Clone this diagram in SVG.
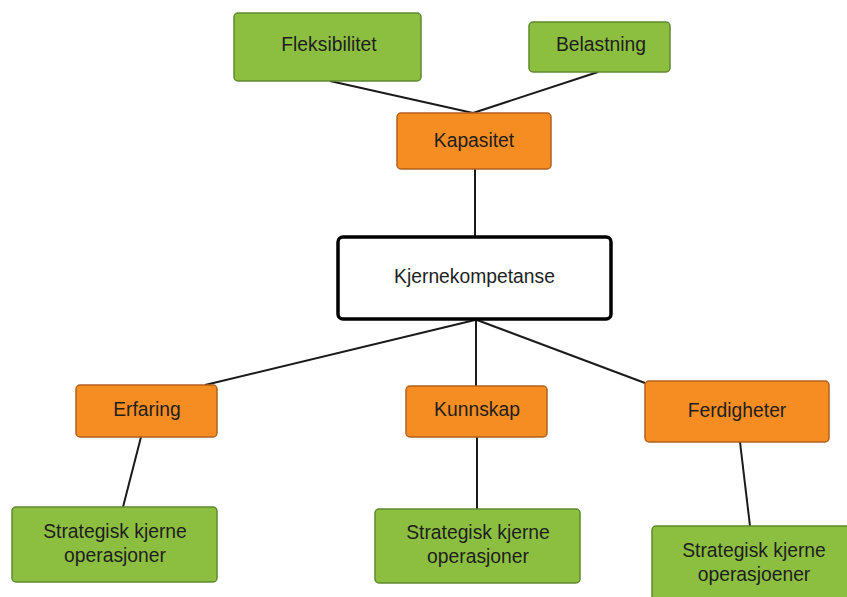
<svg xmlns="http://www.w3.org/2000/svg" width="847" height="597" viewBox="0 0 847 597">
  <style>
    .green { fill: #8cbf40; stroke: #5e8a2e; stroke-width: 1.5; }
    .orange { fill: #f68d22; stroke: #b0621c; stroke-width: 1.5; }
    .core { fill: #ffffff; stroke: #000000; stroke-width: 3.5; }
    .label { font-family: "Liberation Sans", Arial, sans-serif; font-size: 19.3px; fill: #1e1e1e; text-anchor: middle; }
    .edge { stroke: #1a1a1a; stroke-width: 2; fill: none; }
  </style>
  <rect width="847" height="597" fill="#ffffff"/>

  <!-- connectors -->
  <g id="connectors">
    <line class="edge" x1="330" y1="81" x2="473" y2="113"/>
    <line class="edge" x1="598" y1="72" x2="473" y2="113"/>
    <line class="edge" x1="475" y1="169" x2="475" y2="237"/>
    <line class="edge" x1="475" y1="320" x2="205" y2="385"/>
    <line class="edge" x1="476" y1="320" x2="476" y2="386"/>
    <line class="edge" x1="477" y1="320" x2="645" y2="383"/>
    <line class="edge" x1="141" y1="437" x2="123" y2="507"/>
    <line class="edge" x1="477" y1="437" x2="477" y2="509"/>
    <line class="edge" x1="740" y1="442" x2="750" y2="526"/>
  </g>

  <g id="fleksibilitet">
    <rect class="green" x="234" y="13" width="187" height="68" rx="4"/>
    <text class="label" x="329" y="51">Fleksibilitet</text>
  </g>
  <g id="belastning">
    <rect class="green" x="529" y="22" width="141" height="50" rx="4"/>
    <text class="label" x="601" y="51">Belastning</text>
  </g>
  <g id="kapasitet">
    <rect class="orange" x="397" y="113" width="154" height="56" rx="4"/>
    <text class="label" x="474" y="147">Kapasitet</text>
  </g>
  <g id="kjernekompetanse">
    <rect class="core" x="338" y="237" width="273" height="82" rx="5"/>
    <text class="label" x="474.5" y="283">Kjernekompetanse</text>
  </g>
  <g id="erfaring">
    <rect class="orange" x="76" y="385" width="141" height="52" rx="4"/>
    <text class="label" x="147" y="416">Erfaring</text>
  </g>
  <g id="kunnskap">
    <rect class="orange" x="406" y="386" width="141" height="51" rx="4"/>
    <text class="label" x="477" y="416">Kunnskap</text>
  </g>
  <g id="ferdigheter">
    <rect class="orange" x="645" y="381" width="184" height="61" rx="4"/>
    <text class="label" x="737" y="417">Ferdigheter</text>
  </g>
  <g id="operasjoner-venstre">
    <rect class="green" x="12" y="507" width="205" height="75" rx="4"/>
    <text class="label" x="115" y="538">Strategisk kjerne</text>
    <text class="label" x="115" y="562">operasjoner</text>
  </g>
  <g id="operasjoner-midt">
    <rect class="green" x="375" y="509" width="205" height="74" rx="4"/>
    <text class="label" x="478" y="539">Strategisk kjerne</text>
    <text class="label" x="478" y="563">operasjoner</text>
  </g>
  <g id="operasjoner-hoyre">
    <rect class="green" x="652" y="526" width="204" height="80" rx="4"/>
    <text class="label" x="754" y="557">Strategisk kjerne</text>
    <text class="label" x="754" y="581">operasjoener</text>
  </g>
</svg>
